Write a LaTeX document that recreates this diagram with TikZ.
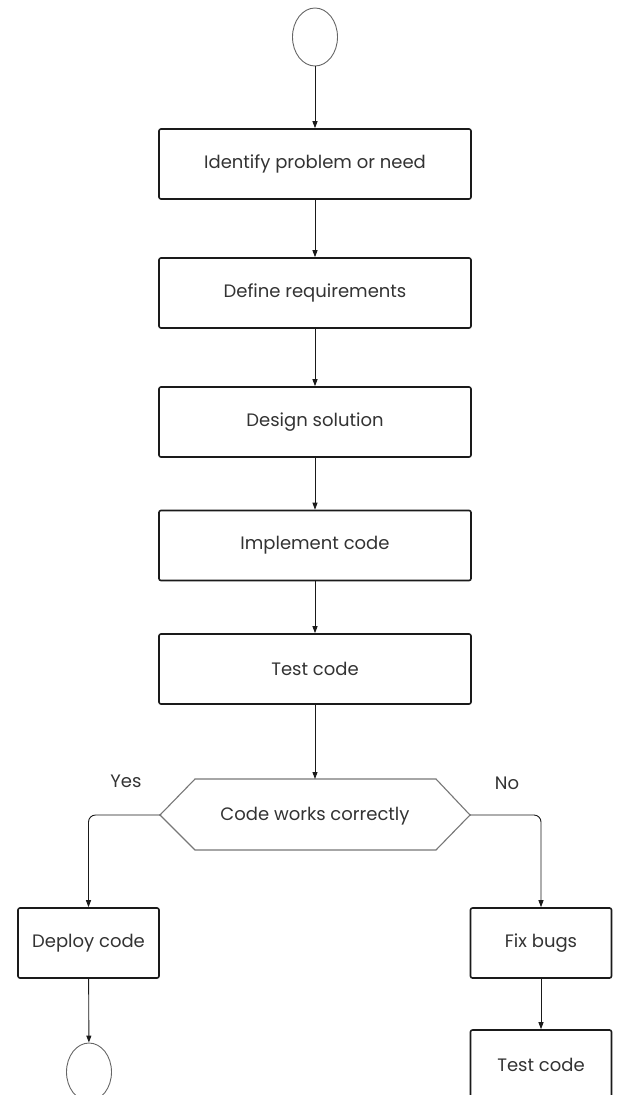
\documentclass[tikz,border=0pt]{standalone}
\usepackage{fontspec}
\setmainfont{Poppins}
\usetikzlibrary{arrows.meta,shapes.geometric}
\definecolor{ink}{HTML}{1A1A1A}
\definecolor{txt}{HTML}{333333}
\definecolor{hexline}{HTML}{777777}
\definecolor{ringline}{HTML}{666666}
\begin{document}
\begin{tikzpicture}[x=1pt,y=-1pt,
  label font/.style={font=\fontsize{18}{21}\selectfont,text=txt},
  stepbox/.style={draw=ink,line width=1.6pt,rounded corners=2pt,fill=white,
    minimum width=312pt,minimum height=70pt,inner sep=0pt,label font},
  smallbox/.style={stepbox,minimum width=141pt},
  terminal/.style={draw=ringline,line width=0.9pt,ellipse,
    minimum width=45pt,minimum height=58pt,inner sep=0pt},
  flow/.style={draw=ink,line width=0.9pt,-{Triangle[length=7pt,width=5pt]}},
  branch/.style={flow,rounded corners=7pt},
  answer/.style={label font}
]
\useasboundingbox (0,0) rectangle (618,1095);

% start terminal
\node[terminal] (start) at (315,37) {};

% main sequence of steps
\node[stepbox] (identify) at (315,164) {Identify problem or need};
\node[stepbox] (define)   at (315,293) {Define requirements};
\node[stepbox] (design)   at (315,422) {Design solution};
\node[stepbox] (impl)     at (315,545.5) {Implement code};
\node[stepbox] (test)     at (315,669) {Test code};

% decision hexagon
\coordinate (hl) at (160,815);
\coordinate (hr) at (470,815);
\draw[hexline,line width=1.1pt,fill=white]
  (hl) -- (195,779) -- (436,779) -- (hr) -- (436,850) -- (195,850) -- cycle;
\coordinate (htop) at (315,779);
\node[label font] (decide) at (315,816) {Code works correctly};

% branch targets
\node[smallbox] (deploy) at (88.5,943) {Deploy code};
\node[smallbox] (fix)    at (541,943) {Fix bugs};
\node[smallbox] (retest) at (541,1065) {Test code};
\node[terminal] (finish) at (89,1072) {};

% answer labels
\node[answer] (yes) at (126,781) {Yes};
\node[answer] (no)  at (507,783) {No};

% connectors
\draw[flow] (start) -- (identify);
\draw[flow] (identify) -- (define);
\draw[flow] (define) -- (design);
\draw[flow] (design) -- (impl);
\draw[flow] (impl) -- (test);
\draw[flow] (test) -- (htop);
\draw[branch] (hl) -| (deploy.north);
\draw[branch] (hr) -| (fix.north);
\draw[flow] (deploy) -- (finish);
\draw[flow] (fix) -- (retest);
\end{tikzpicture}
\end{document}
